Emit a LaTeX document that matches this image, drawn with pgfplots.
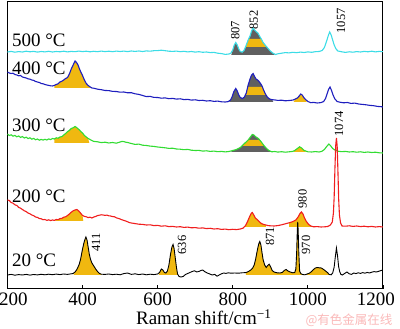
\documentclass[border=0pt]{standalone}
\usepackage{fontspec}
\setmainfont{Liberation Serif}
\newfontfamily\cjk{Noto Sans CJK SC}
\usepackage{pgfplots}
\pgfplotsset{compat=1.18}
\definecolor{gold}{RGB}{240,184,16}
\definecolor{dgray}{RGB}{96,96,96}
\definecolor{ccyan}{RGB}{60,220,230}
\definecolor{cblue}{RGB}{30,30,190}
\definecolor{cgreen}{RGB}{50,220,50}
\definecolor{cred}{RGB}{240,30,30}
\definecolor{wm}{RGB}{250,185,185}
\begin{document}
\begin{tikzpicture}
\begin{axis}[name=ax,
  width=375.6pt, height=287pt, scale only axis,
  xmin=200, xmax=1200, ymin=0, ymax=287,
  xtick={200,400,600,800,1000,1200}, ytick=\empty,
  xticklabels={{\hspace*{12pt}200},400,600,800,1000,{1200\hspace*{14pt}}},
  xtick pos=left, tick align=inside, major tick length=4pt,
  tick style={black, line width=0.8pt},
  axis line style={line width=1pt},
  /pgf/number format/assume math mode=true,
  ticklabel style={font=\fontsize{19}{20}\selectfont},
  xlabel={Raman shift/cm\textsuperscript{−1}},
  xlabel style={font=\fontsize{19}{20}\selectfont, at={(axis description cs:0.523,-0.06)}, anchor=north},
  clip mode=individual,
]
% ---------- fills ----------
% 500
\addplot[fill=dgray, draw=none] coordinates {(796,234) (798,236.5) (800,239) (804,244) (808,246.5) (812,244) (816,240) (820,237.5) (825,236.8) (830,238.5) (835,243) (841,249) (846,253) (850,258) (854,261) (858,259) (862,257.5) (867,256) (872,252.5) (876,250) (880,247) (886,244) (893,241) (900,238) (907,235.8) (912,234)} -- cycle;
\addplot[fill=gold, draw=none] coordinates {(834,242) (835,243) (841,249) (842,250) (876,250) (880,247) (886,244) (891,242)} -- cycle;
% 400
\addplot[fill=gold, draw=none] coordinates {(325,201) (325,203.6) (330,204.5) (335,205.2) (340,207) (345,207.8) (350,209) (355,210.5) (360,211.5) (365,215) (370,220) (375,224) (380,228) (384,226.5) (388,224) (392,220) (396,216.5) (400,213.5) (405,209) (410,205.5) (415,203.5) (420,202.2) (423,201)} -- cycle;
\addplot[fill=dgray, draw=none] coordinates {(790,187) (794,189) (798,192) (803,197.5) (808,200.5) (812,198) (816,194) (820,191.5) (826,190.5) (831,192) (836,196) (841,204) (846,210) (850,214) (854,215.5) (858,212.5) (862,210) (866,209) (870,207.5) (874,205.5) (878,203) (882,199) (887,195) (892,192) (898,190) (905,189.3) (908,187)} -- cycle;
\addplot[fill=gold, draw=none] coordinates {(833.5,194) (836,196) (840,202) (879,202) (882,199) (887,195) (888.7,194)} -- cycle;
\addplot[fill=gold, draw=none] coordinates {(962,187) (966,189.8) (972,191) (977,193) (981,195) (985,194) (989,191.5) (994,189.5) (997,187)} -- cycle;
% 300
\addplot[fill=gold, draw=none] coordinates {(325,146) (325,150.0) (330,151.2) (335,150.8) (340,152) (345,152.4) (350,154) (355,155.5) (360,157.4) (365,158.6) (370,160.5) (375,161.2) (380,162.5) (384,161.5) (388,160.2) (392,159.0) (396,157.2) (400,156) (405,153.5) (410,152) (415,150.5) (418,146)} -- cycle;
\addplot[fill=dgray, draw=none] coordinates {(795,137) (800,138.5) (810,139.5) (820,141.5) (827,144) (834,146.5) (841,149) (847,152) (852,154.5) (856,154) (860,152.5) (864,151.5) (868,150.5) (873,148.5) (878,146) (884,143) (890,140.5) (896,138.5) (904,137.2) (906,137)} -- cycle;
\addplot[fill=gold, draw=none] coordinates {(824,143) (827,144) (834,146.5) (841,149) (872,149) (873,148.5) (878,146) (884,143)} -- cycle;
\addplot[fill=gold, draw=none] coordinates {(962,137) (966,138.8) (972,140.5) (978,142.2) (984,140.8) (990,138.6) (996,137)} -- cycle;
% 200
\addplot[fill=gold, draw=none] coordinates {(327,68) (330,69.6) (335,69.3) (340,70.4) (345,70.6) (350,71.8) (355,72.2) (360,73.5) (365,75) (370,76.8) (375,78.2) (380,79) (385,79.5) (390,78) (395,75.8) (400,73.5) (402,68)} -- cycle;
\addplot[fill=gold, draw=none] coordinates {(832,62) (834,63.5) (840,68) (845,72.5) (849,75.5) (852,76.5) (856,74) (860,71) (865,69.5) (870,67.5) (876,65.5) (882,64.6) (888,64.0) (888,62)} -- cycle;
\addplot[fill=gold, draw=none] coordinates {(950,62) (950,66.2) (960,67.4) (968,69) (974,72) (979,75.5) (983,77) (987,75) (991,71) (996,67.5) (1002,64.5) (1008,63.0) (1012,62)} -- cycle;
% 20
\addplot[fill=gold, draw=none] coordinates {(376,14) (380,17) (384,19) (388,22) (391,24.5) (395,30) (399,38) (403,45) (406,49) (409,52) (412,49) (415,42) (418,35) (421,30) (425,26) (430,23) (435,20) (440,17.5) (445,15.6) (450,14.8) (452,14)} -- cycle;
\addplot[fill=gold, draw=none] coordinates {(603,14) (605,16.5) (610,20) (614,19) (618,16.5) (622,16) (626,18) (630,24) (634,34) (638,42) (641,44.5) (644,40) (647,31) (650,22) (653,15) (655,14)} -- cycle;
\addplot[fill=gold, draw=none] coordinates {(835,14) (835,16.4) (842,17.5) (848,19) (853,21) (857,24) (861,30) (865,38) (869,45) (872,47.5) (875,44) (878,36) (881,29) (885,24) (889,21.5) (893,23.5) (897,24.8) (901,22) (905,18.5) (910,17) (918,16.2) (926,16.0) (932,16.6) (937,18.5) (942,19.5) (947,18.0) (953,17.0) (960,16.2) (965,16.5) (968,20) (970,35) (972,60) (973,67) (974,60) (976,35) (978,18) (981,15.5) (986,14.5) (992,14.2) (998,15.0) (1004,15.8) (1010,17.5) (1015,19.5) (1020,21.0) (1025,21.5) (1030,21.2) (1036,21.0) (1042,19.5) (1047,18.0) (1052,16.5) (1057,14.5) (1057,14)} -- cycle;
% ---------- lines ----------
\addplot[ccyan, line width=1.1pt] coordinates {(200,237) (210,237.6) (220,236.8) (230,237.4) (240,237.0) (250,237.8) (260,237.2) (270,237.6) (280,236.9) (290,237.5) (300,237.1) (310,237.7) (320,237.0) (330,237.5) (340,237.2) (350,237.8) (360,237.1) (370,237.6) (380,237.3) (390,237.9) (400,237.4) (410,237.8) (420,237.2) (430,237.7) (440,237.3) (450,237.9) (460,237.4) (470,237.8) (480,237.3) (490,237.9) (500,237.5) (510,237.9) (520,237.4) (530,238.0) (540,237.6) (550,238.0) (560,237.5) (570,238.1) (580,237.8) (590,238.3) (600,238.4) (610,238.8) (620,238.3) (630,237.8) (640,237.6) (650,237.9) (660,237.3) (670,237.7) (680,237.1) (690,237.5) (700,236.9) (710,237.3) (720,236.7) (730,237.0) (740,236.4) (750,236.6) (760,235.8) (770,235.4) (780,234.6) (790,235.0) (795,235.8) (800,239) (804,244) (808,246.5) (812,244) (816,240) (820,237.5) (825,236.8) (830,238.5) (835,243) (841,249) (846,253) (850,258) (854,261) (858,259) (862,257.5) (867,256) (872,252.5) (876,250) (880,247) (886,244) (893,241) (900,238) (907,235.8) (914,234.5) (920,235.2) (930,235.8) (940,236.4) (950,236.1) (960,236.7) (970,236.3) (980,236.9) (990,236.5) (1000,237.1) (1010,236.7) (1020,237.3) (1030,237.5) (1038,238.5) (1044,241.5) (1050,248) (1054,253) (1058,257) (1062,254) (1066,249) (1070,244) (1075,240) (1080,238) (1090,237.2) (1100,236.6) (1110,237.2) (1120,236.8) (1130,237.4) (1140,237.0) (1150,237.6) (1160,237.2) (1170,237.8) (1180,237.1) (1190,237.6) (1200,237.3)};
\addplot[cblue, line width=1.1pt] coordinates {(200,217) (205,216) (210,215.5) (215,215.8) (220,214.5) (225,214) (230,213.2) (235,213.5) (240,212) (245,211.5) (250,211) (255,210.2) (260,209.8) (265,209) (270,208.6) (275,207.5) (280,207) (285,206.5) (290,205.5) (295,205.2) (300,204.5) (305,204.0) (310,203.6) (315,203.2) (320,203.0) (325,203.6) (330,204.5) (335,205.2) (340,207) (345,207.8) (350,209) (355,210.5) (360,211.5) (365,215) (370,220) (375,224) (380,228) (384,226.5) (388,224) (392,220) (396,216.5) (400,213.5) (405,209) (410,205.5) (415,203.5) (420,202.2) (425,201) (430,200.8) (440,199.8) (450,199.3) (460,198.5) (470,198.4) (480,197.6) (490,197.5) (500,196.8) (510,197) (520,196.2) (530,196.3) (540,195.2) (550,194.6) (560,193.5) (570,192.4) (580,192.6) (590,191.6) (600,191.5) (610,190.8) (620,191.1) (630,190.3) (640,190.6) (650,189.9) (660,190.2) (670,189.4) (680,189.6) (690,188.9) (700,189.2) (710,188.5) (720,188.7) (730,188.0) (740,188.3) (750,187.6) (760,187.9) (770,187.2) (780,187.0) (788,187.4) (794,189) (798,192) (803,197.5) (808,200.5) (812,198) (816,194) (820,191.5) (826,190.5) (831,192) (836,196) (841,204) (846,210) (850,214) (854,215.5) (858,212.5) (862,210) (866,209) (870,207.5) (874,205.5) (878,203) (882,199) (887,195) (892,192) (898,190) (905,189.3) (913,189) (920,188.6) (930,188.8) (940,188.2) (950,188.5) (960,188.9) (966,189.8) (972,191) (977,193) (981,195) (985,194) (989,191.5) (994,189.5) (1000,187.5) (1008,186.3) (1015,186.6) (1025,186.0) (1035,186.4) (1042,187.5) (1047,190.5) (1051,195) (1055,199.5) (1059,202) (1063,198.5) (1067,194) (1072,190) (1078,187.5) (1085,186.8) (1095,186.2) (1105,186.5) (1115,185.6) (1125,185.9) (1135,185.0) (1145,184.6) (1155,184.2) (1165,183.6) (1175,183.3) (1185,182.6) (1195,182.3) (1200,182)};
\addplot[cgreen, line width=1.1pt] coordinates {(200,155) (205,153.5) (210,154.2) (215,152.8) (220,153.6) (225,152.2) (230,153.0) (235,151.6) (240,152.4) (245,151.0) (250,151.8) (255,150.4) (260,151.2) (265,149.8) (270,150.6) (275,149.2) (280,150.0) (285,148.8) (290,149.6) (295,148.9) (300,149.7) (305,149.0) (310,150.1) (315,149.4) (320,150.5) (325,150.0) (330,151.2) (335,150.8) (340,152) (345,152.4) (350,154) (355,155.5) (360,157.4) (365,158.6) (370,160.5) (375,161.2) (380,162.5) (384,161.5) (388,160.2) (392,159.0) (396,157.2) (400,156) (405,153.5) (410,152) (415,150.5) (420,149.5) (425,148.4) (430,147.6) (440,147.2) (450,146.4) (460,146.8) (470,146.0) (480,146.5) (490,145.8) (500,147) (505,147.6) (510,147.4) (515,146.8) (520,146.5) (530,145.5) (540,144.6) (550,144.9) (560,143.8) (570,143.5) (580,142.9) (590,142.6) (600,142.0) (610,141.6) (620,141.2) (630,140.6) (640,140.8) (650,140.0) (660,139.8) (670,139.3) (680,139.6) (690,138.8) (700,138.5) (710,138.6) (720,137.9) (730,138.2) (740,137.6) (750,137.9) (760,137.3) (770,137.6) (780,137.1) (790,137.5) (800,138.5) (810,139.5) (820,141.5) (827,144) (834,146.5) (841,149) (847,152) (852,154.5) (856,154) (860,152.5) (864,151.5) (868,150.5) (873,148.5) (878,146) (884,143) (890,140.5) (896,138.5) (904,137.2) (912,137.5) (920,136.9) (930,137.3) (940,136.8) (950,137.2) (960,137.6) (966,138.8) (972,140.5) (978,142.2) (984,140.8) (990,138.6) (1000,137.2) (1010,137.0) (1020,137.4) (1030,137.0) (1038,137.8) (1044,139.5) (1050,142.5) (1056,145) (1061,143) (1066,140.5) (1072,139) (1080,137.8) (1090,137.3) (1100,137.6) (1110,137.0) (1120,137.3) (1130,136.8) (1140,137.2) (1150,136.6) (1160,137.0) (1170,136.5) (1180,136.8) (1190,136.2) (1200,136)};
\addplot[cred, line width=1.1pt] coordinates {(200,89) (205,88.5) (210,86.5) (215,85.8) (220,84.2) (225,83.5) (230,81.6) (235,80.8) (240,79.5) (245,78.2) (250,77.4) (255,76.0) (260,75.2) (265,74.0) (270,73.3) (275,72.0) (280,71.6) (285,70.5) (290,70.2) (295,69.3) (300,69.5) (305,68.6) (310,69.2) (315,68.4) (320,69.0) (325,68.6) (330,69.6) (335,69.3) (340,70.4) (345,70.6) (350,71.8) (355,72.2) (360,73.5) (365,75) (370,76.8) (375,78.2) (380,79) (385,79.5) (390,78) (395,75.8) (400,73.5) (405,72.6) (410,72.2) (415,71.4) (420,71.8) (425,71.0) (430,72.0) (435,72.5) (440,73.4) (445,73.8) (450,74.2) (455,74.0) (460,73.6) (465,73.9) (470,73.2) (475,73.0) (480,72.4) (485,72.2) (490,71.2) (495,70.6) (500,70.0) (505,69.2) (510,68.6) (515,68.0) (520,67.2) (525,66.4) (530,66.0) (540,65.4) (550,64.8) (560,64.6) (570,64.0) (580,64.2) (590,63.4) (600,63.6) (610,62.8) (620,63.2) (630,62.4) (640,62.6) (650,62.0) (660,62.3) (670,61.6) (680,61.9) (690,61.2) (700,61.4) (710,60.8) (720,61.1) (730,60.4) (740,60.7) (750,60.0) (760,60.3) (770,59.6) (780,59.9) (790,59.3) (800,59.7) (810,59.4) (820,60.0) (828,61) (834,63.5) (840,68) (845,72.5) (849,75.5) (852,76.5) (856,74) (860,71) (865,69.5) (870,67.5) (876,65.5) (882,64.6) (888,64.0) (894,63.4) (900,63.2) (910,63.0) (920,63.4) (930,64.2) (940,65.2) (950,66.2) (960,67.4) (968,69) (974,72) (979,75.5) (983,77) (987,75) (991,71) (996,67.5) (1002,64.5) (1008,63.0) (1015,62.2) (1025,62.4) (1035,62.0) (1045,62.2) (1053,62.5) (1060,64) (1065,67) (1068,76) (1070,92) (1072,120) (1074,143) (1076,151) (1078,143) (1080,118) (1082,90) (1084,74) (1087,66) (1091,63) (1100,62.8) (1110,63.2) (1120,62.6) (1130,63.0) (1140,62.4) (1150,62.8) (1160,62.2) (1170,62.6) (1180,62.0) (1190,62.4) (1200,62)};
\addplot[black, line width=0.9pt] coordinates {(200,14.0) (210,14.6) (220,13.8) (230,14.4) (240,14.0) (250,14.6) (260,13.9) (270,14.5) (280,14.1) (290,14.7) (300,14.2) (310,14.8) (320,14.3) (330,14.9) (340,14.4) (350,15.0) (360,14.6) (370,15.2) (375,15.5) (380,17) (384,19) (388,22) (391,24.5) (395,30) (399,38) (403,45) (406,49) (409,52) (412,49) (415,42) (418,35) (421,30) (425,26) (430,23) (435,20) (440,17.5) (445,15.6) (450,14.8) (460,14.6) (470,15.0) (480,14.4) (490,14.8) (500,14.2) (510,15.4) (520,16.0) (530,14.6) (540,15.2) (550,14.4) (560,15.0) (570,14.2) (580,14.8) (590,14.4) (600,15.0) (605,16.5) (610,20) (614,19) (618,16.5) (622,16) (626,18) (630,24) (634,34) (638,42) (641,44.5) (644,40) (647,31) (650,22) (653,15) (657,12.5) (662,12) (668,12.5) (674,14.5) (680,15.5) (686,16.5) (692,17.5) (698,18.2) (704,17.0) (710,17.6) (716,18.6) (720,19.0) (726,17.2) (732,16.0) (739,15.0) (745,14.0) (752,14.6) (758,12.8) (764,14.0) (770,15.2) (776,16.0) (782,15.6) (788,16.2) (795,15.8) (805,16.0) (815,15.8) (825,16.2) (835,16.4) (842,17.5) (848,19) (853,21) (857,24) (861,30) (865,38) (869,45) (872,47.5) (875,44) (878,36) (881,29) (885,24) (889,21.5) (893,23.5) (897,24.8) (901,22) (905,18.5) (910,17) (918,16.2) (926,16.0) (932,16.6) (937,18.5) (942,19.5) (947,18.0) (953,17.0) (960,16.2) (965,16.5) (968,20) (970,35) (972,60) (973,67) (974,60) (976,35) (978,18) (981,15.5) (986,14.5) (992,14.2) (998,15.0) (1004,15.8) (1010,17.5) (1015,19.5) (1020,21.0) (1025,21.5) (1030,21.2) (1036,21.0) (1042,19.5) (1047,18.0) (1052,16.5) (1057,14.5) (1062,14.2) (1066,16) (1070,22) (1073,32) (1076,41) (1079,33) (1082,22) (1085,17) (1088,14.6) (1092,14.0) (1098,15.5) (1104,17.0) (1110,15.2) (1116,14.6) (1122,16.0) (1128,15.4) (1134,16.2) (1140,15.6) (1146,16.4) (1152,15.8) (1158,16.6) (1164,16.0) (1170,16.8) (1176,17.4) (1182,17.0) (1188,17.6) (1194,18.4) (1200,19)};
% ---------- labels ----------
\begin{scope}[every node/.style={font=\fontsize{19}{20}\selectfont, inner sep=0pt}]
\node[anchor=west] at (axis cs:212,249) {500 °C};
\node[anchor=west] at (axis cs:212,221) {400 °C};
\node[anchor=west] at (axis cs:212,164) {300 °C};
\node[anchor=west] at (axis cs:212,92.5) {200 °C};
\node[anchor=west] at (axis cs:212,28.5) {20 °C};
\end{scope}
\begin{scope}[every node/.style={font=\fontsize{12.5}{13}\selectfont, inner sep=0pt, rotate=90}]
\node at (axis cs:807,258.5) {807};
\node at (axis cs:856,269) {852};
\node at (axis cs:1088,268) {1057};
\node at (axis cs:1083,165) {1074};
\node at (axis cs:986,90) {980};
\node at (axis cs:436,46.5) {411};
\node at (axis cs:665,44) {636};
\node at (axis cs:899,52.5) {871};
\node at (axis cs:995,44) {970};
\end{scope}
\end{axis}
\node[text=wm, font=\cjk\fontsize{12.5}{13}\selectfont, inner sep=0pt] at ([shift={(341.6pt,-31pt)}]ax.south west) {@有色金属在线};
\pgfresetboundingbox
\path[use as bounding box] ([shift={(-7.4pt,-40pt)}]ax.south west) rectangle ([shift={(17pt,2pt)}]ax.north east);
\end{tikzpicture}
\end{document}
